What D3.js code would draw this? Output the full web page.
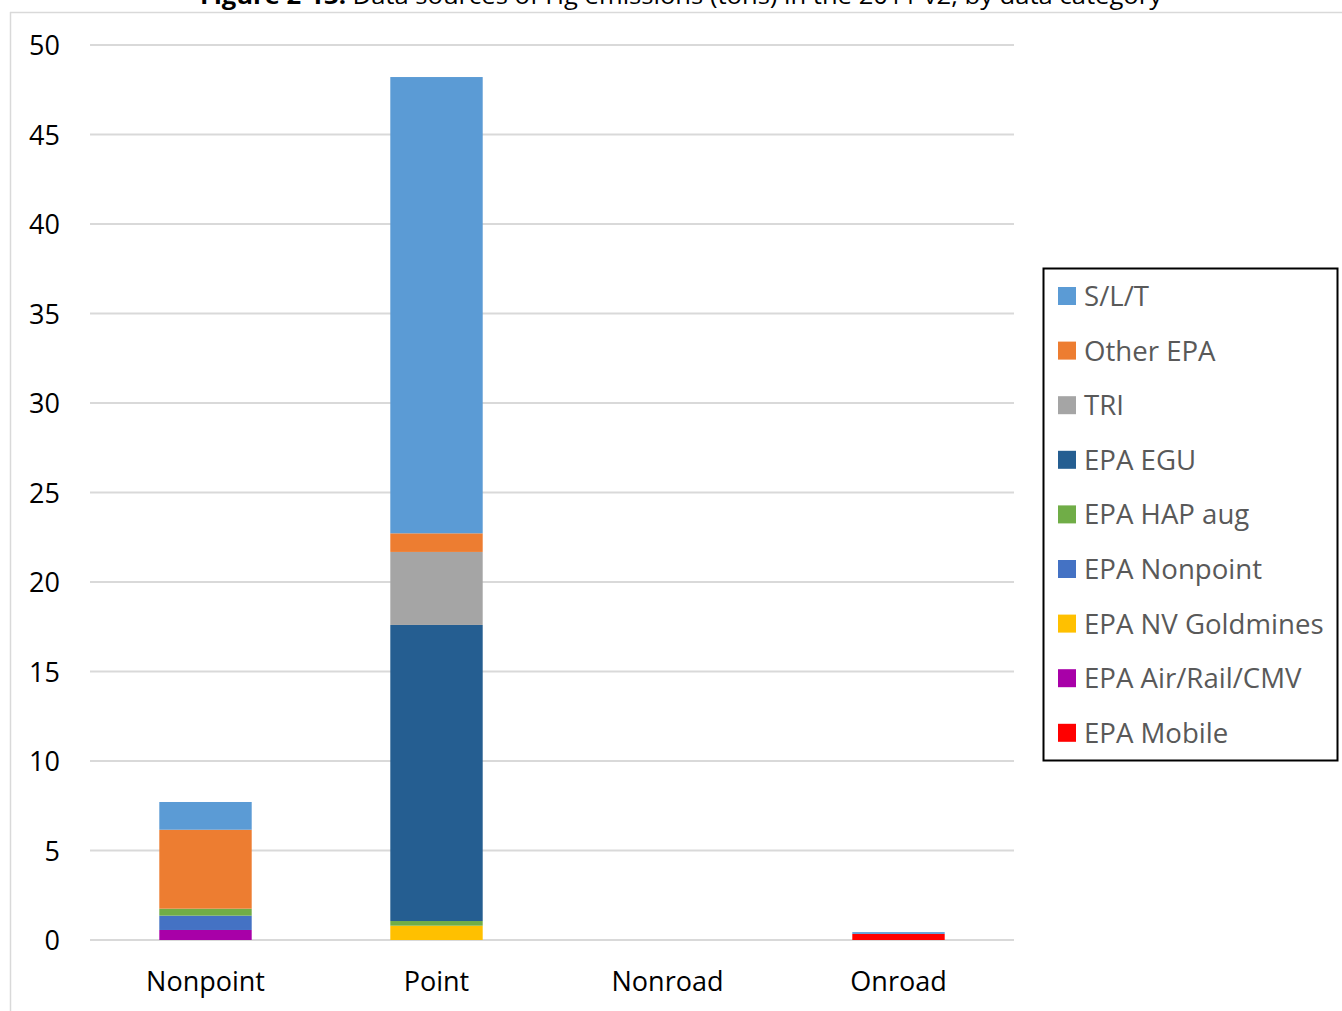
<!DOCTYPE html>
<html>
<head>
<meta charset="utf-8">
<script src="https://cdn.jsdelivr.net/npm/d3@7"></script>
<style>
  html, body { margin: 0; padding: 0; background: #fff; }
  svg { display: block; }
</style>
</head>
<body>
<svg id="chart" width="1342" height="1011"></svg>
<script>
// Hg emissions (tons) by data category, stacked by data source
const categories = ["Nonpoint", "Point", "Nonroad", "Onroad"];
const sources = ["S/L/T", "Other EPA", "TRI", "EPA EGU", "EPA HAP aug", "EPA Nonpoint",
                 "EPA NV Goldmines", "EPA Air/Rail/CMV", "EPA Mobile"];
const colors = ["#5b9bd5", "#ed7d31", "#a5a5a5", "#255e91", "#70ad47", "#4472c4",
                "#ffc000", "#a800a8", "#ff0000"];

// values per source, in category order
const sltValues        = [1.55, 25.49, 0, 0.10];
const otherEpaValues   = [4.41, 1.04, 0, 0];
const triValues        = [0, 4.08, 0, 0];
const egsValues        = [0, 16.54, 0, 0];
const hapAugValues     = [0.39, 0.26, 0, 0];
const nonpointValues   = [0.80, 0, 0, 0];
const goldminesValues  = [0, 0.80, 0, 0];
const airRailCmvValues = [0.56, 0, 0, 0];
const mobileValues     = [0, 0, 0, 0.34];

const yTicks = [0, 5, 10, 15, 20, 25, 30, 35, 40, 45, 50];
const titleBold = "Figure 2-13:";
const titleRest = " Data sources of Hg emissions (tons) in the 2011 v2, by data category";

const seriesValues = [sltValues, otherEpaValues, triValues, egsValues, hapAugValues,
                      nonpointValues, goldminesValues, airRailCmvValues, mobileValues];

// stacking order: bottom of the bar is the last source in the legend
const rows = categories.map((c, i) => {
  const r = { category: c };
  sources.forEach((s, j) => { r[s] = seriesValues[j][i]; });
  return r;
});
const stackKeys = sources.slice().reverse();
const stacked = d3.stack().keys(stackKeys)(rows);
const colorOf = d3.scaleOrdinal().domain(sources).range(colors);

const svg = d3.select("#chart");
const font = "'Open Sans', 'DejaVu Sans', sans-serif";

// outer frame (top and left edges visible)
svg.append("line").attr("x1", 10).attr("x2", 1342).attr("y1", 12.5).attr("y2", 12.5)
  .attr("stroke", "#d9d9d9").attr("stroke-width", 1.5);
svg.append("line").attr("x1", 10.5).attr("x2", 10.5).attr("y1", 12).attr("y2", 1011)
  .attr("stroke", "#d9d9d9").attr("stroke-width", 1.5);

// title, running off the top edge
const title = svg.append("text")
  .attr("x", 200).attr("y", 4)
  .attr("textLength", 962).attr("lengthAdjust", "spacingAndGlyphs")
  .attr("font-family", "'Liberation Sans Narrow', 'Open Sans', sans-serif")
  .attr("font-size", 24).attr("fill", "#000");
title.append("tspan").attr("font-weight", "bold").text(titleBold);
title.append("tspan").text(titleRest);

const plot = { left: 90, right: 1014, top: 45, bottom: 940 };

const x = d3.scaleBand().domain(categories)
  .range([plot.left, plot.right]).paddingInner(0.6).paddingOuter(0.3);
const y = d3.scaleLinear().domain([0, 50]).range([plot.bottom, plot.top]);

// gridlines
svg.append("g").selectAll("line").data(yTicks).join("line")
  .attr("x1", plot.left).attr("x2", plot.right)
  .attr("y1", d => y(d)).attr("y2", d => y(d))
  .attr("stroke", "#d9d9d9").attr("stroke-width", 2);

// y axis labels
const yAxis = d3.axisLeft(y).tickValues(yTicks).tickSize(0).tickPadding(0);
const yg = svg.append("g").attr("transform", "translate(60,0)").call(yAxis);
yg.select(".domain").remove();
yg.selectAll("text").attr("font-family", font).attr("font-size", 27)
  .attr("fill", "#000").attr("dy", "0.36em");

// stacked bars
svg.append("g").selectAll("g").data(stacked).join("g")
  .attr("fill", d => colorOf(d.key))
  .selectAll("rect").data(d => d).join("rect")
  .attr("x", d => x(d.data.category))
  .attr("width", x.bandwidth())
  .attr("y", d => y(d[1]))
  .attr("height", d => Math.max(0, y(d[0]) - y(d[1])));

// x axis labels
const xAxis = d3.axisBottom(x).tickSize(0).tickPadding(0);
const xg = svg.append("g").attr("transform", `translate(0,${plot.bottom})`).call(xAxis);
xg.select(".domain").remove();
xg.selectAll("text").attr("font-family", font).attr("font-size", 27)
  .attr("fill", "#000").attr("dy", null).attr("y", 51);

// legend
const legend = svg.append("g");
legend.append("rect").attr("x", 1043.5).attr("y", 268.5).attr("width", 294).attr("height", 492)
  .attr("fill", "#fff").attr("stroke", "#000").attr("stroke-width", 2);
const items = legend.selectAll("g.item").data(sources).join("g")
  .attr("class", "item")
  .attr("transform", (d, i) => `translate(1058,${296 + i * 54.6})`);
items.append("rect").attr("x", 0).attr("y", -9).attr("width", 18).attr("height", 18)
  .attr("fill", d => colorOf(d));
items.append("text").attr("x", 26).attr("y", 0).attr("dy", "0.36em")
  .attr("font-family", font).attr("font-size", 27.6).attr("fill", "#595959")
  .text(d => d);
</script>
</body>
</html>
